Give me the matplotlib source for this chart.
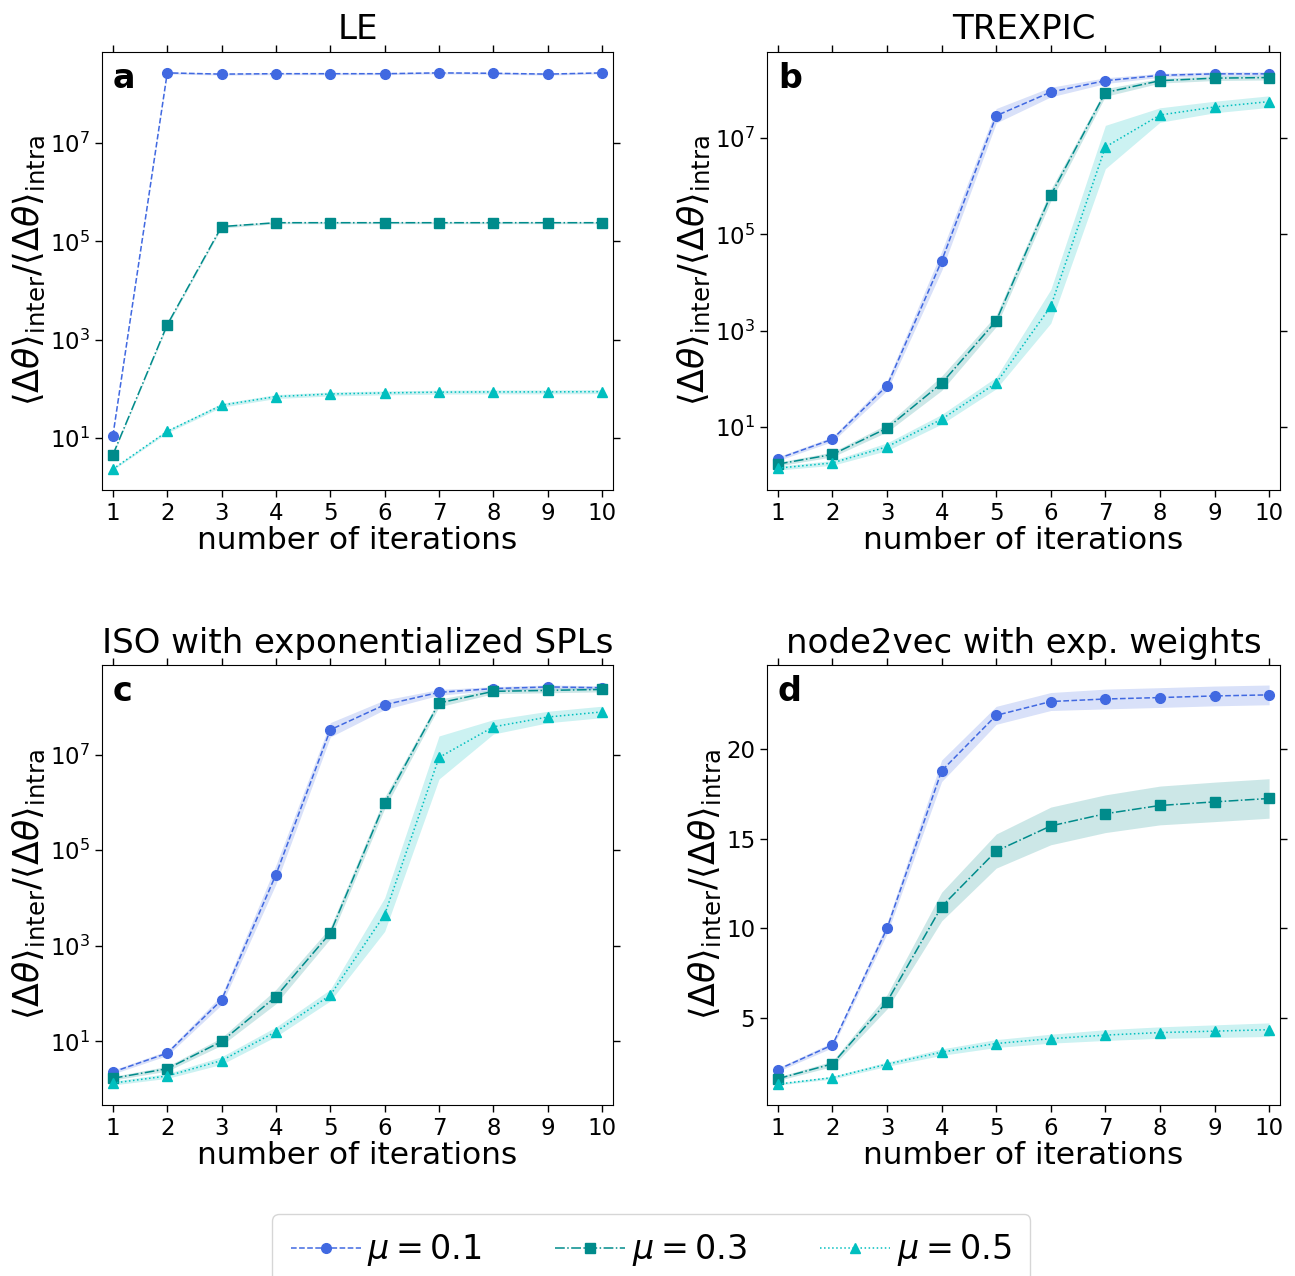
import numpy as np
import matplotlib
matplotlib.use("Agg")
import matplotlib.pyplot as plt
from matplotlib.ticker import NullLocator

iterations = [1, 2, 3, 4, 5, 6, 7, 8, 9, 10]
mu_labels = [r"$\mu = 0.1$", r"$\mu = 0.3$", r"$\mu = 0.5$"]
titles = ["LE", "TREXPIC", "ISO with exponentialized SPLs", "node2vec with exp. weights"]
panel_letters = ["a", "b", "c", "d"]

# ---- panel a: LE (log scale) ----
le_mu01 = [11, 2.7e8, 2.55e8, 2.6e8, 2.6e8, 2.6e8, 2.7e8, 2.65e8, 2.55e8, 2.7e8]
le_mu03 = [4.5, 2000, 2.0e5, 2.4e5, 2.4e5, 2.4e5, 2.4e5, 2.4e5, 2.4e5, 2.4e5]
le_mu05 = [2.3, 13.5, 46, 69, 78, 82, 85, 86, 86, 87]
le_w01 = [0.02] * 10
le_w03 = [0.02, 0.03, 0.03, 0.02, 0.02, 0.02, 0.02, 0.02, 0.02, 0.02]
le_w05 = [0.02, 0.03, 0.04, 0.04, 0.04, 0.04, 0.04, 0.04, 0.04, 0.04]

# ---- panel b: TREXPIC (log scale) ----
tr_mu01 = [2.2, 5.6, 72, 2.8e4, 2.9e7, 9.0e7, 1.55e8, 2.0e8, 2.15e8, 2.15e8]
tr_mu03 = [1.7, 2.7, 9.5, 81, 1600, 6.5e5, 8.8e7, 1.55e8, 1.75e8, 1.8e8]
tr_mu05 = [1.4, 1.8, 3.9, 14.5, 82, 3200, 6.5e6, 3.0e7, 4.4e7, 5.7e7]
tr_w01 = [0.04, 0.05, 0.1, 0.2, 0.15, 0.1, 0.06, 0.04, 0.04, 0.04]
tr_w03 = [0.04, 0.05, 0.08, 0.15, 0.12, 0.12, 0.08, 0.05, 0.05, 0.05]
tr_w05 = [0.04, 0.05, 0.08, 0.1, 0.12, 0.35, 0.45, 0.15, 0.12, 0.12]

# ---- panel c: ISO with exponentialized SPLs (log scale) ----
iso_mu01 = [2.3, 5.7, 74, 3.1e4, 3.3e7, 1.1e8, 2.0e8, 2.4e8, 2.6e8, 2.5e8]
iso_mu03 = [1.7, 2.7, 10, 87, 1860, 9.8e5, 1.2e8, 2.1e8, 2.2e8, 2.3e8]
iso_mu05 = [1.35, 1.9, 4.0, 16, 93, 4500, 8.7e6, 3.8e7, 6.1e7, 7.8e7]
iso_w01 = [0.04, 0.05, 0.1, 0.2, 0.15, 0.1, 0.06, 0.04, 0.04, 0.04]
iso_w03 = [0.04, 0.05, 0.08, 0.15, 0.12, 0.12, 0.08, 0.05, 0.05, 0.05]
iso_w05 = [0.04, 0.05, 0.08, 0.1, 0.12, 0.35, 0.45, 0.15, 0.12, 0.12]

# ---- panel d: node2vec with exp. weights (linear scale) ----
n2v_mu01 = [2.13, 3.5, 10.0, 18.77, 21.86, 22.63, 22.77, 22.85, 22.94, 23.0]
n2v_mu03 = [1.62, 2.45, 5.91, 11.21, 14.3, 15.7, 16.38, 16.84, 17.04, 17.23]
n2v_mu05 = [1.32, 1.68, 2.43, 3.1, 3.58, 3.85, 4.05, 4.19, 4.27, 4.35]
n2v_w01 = [0.1, 0.15, 0.3, 0.6, 0.5, 0.5, 0.55, 0.55, 0.55, 0.55]
n2v_w03 = [0.1, 0.15, 0.4, 0.8, 0.95, 1.05, 1.05, 1.08, 1.1, 1.1]
n2v_w05 = [0.05, 0.08, 0.12, 0.18, 0.22, 0.25, 0.3, 0.32, 0.35, 0.38]

colors = ["royalblue", "darkcyan", "c"]
markers = ["o", "s", "^"]
linestyles = ["--", "-.", ":"]

panels = [
    (le_mu01, le_mu03, le_mu05, le_w01, le_w03, le_w05, True),
    (tr_mu01, tr_mu03, tr_mu05, tr_w01, tr_w03, tr_w05, True),
    (iso_mu01, iso_mu03, iso_mu05, iso_w01, iso_w03, iso_w05, True),
    (n2v_mu01, n2v_mu03, n2v_mu05, n2v_w01, n2v_w03, n2v_w05, False),
]

W, H = 1295, 1276
fig = plt.figure(figsize=(W / 100, H / 100), dpi=100)

rects_px = [
    (102, 52, 613, 490),
    (767, 52, 1280, 490),
    (102, 665, 613, 1105),
    (767, 665, 1280, 1105),
]

ylabel = r"$\langle\Delta\theta\rangle_{\rm inter}/\langle\Delta\theta\rangle_{\rm intra}$"
handles = []
for k, (rect, pdata) in enumerate(zip(rects_px, panels)):
    l, t, r, b = rect
    ax = fig.add_axes([l / W, 1 - b / H, (r - l) / W, (b - t) / H])
    means = pdata[:3]
    widths = pdata[3:6]
    is_log = pdata[6]
    x = np.array(iterations)
    for i in range(3):
        m = np.array(means[i], dtype=float)
        w = np.array(widths[i], dtype=float)
        if is_log:
            lo, hi = m / 10 ** w, m * 10 ** w
        else:
            lo, hi = m - w, m + w
        ax.fill_between(x, lo, hi, color=colors[i], alpha=0.2, linewidth=0)
        h, = ax.plot(x, m, color=colors[i], marker=markers[i], linestyle=linestyles[i],
                     markersize=7, linewidth=1.1, label=mu_labels[i])
        if k == 0:
            handles.append(h)
    if is_log:
        ax.set_yscale("log")
        ax.set_yticks([1e1, 1e3, 1e5, 1e7])
        ax.yaxis.set_minor_locator(NullLocator())
    else:
        ax.set_yticks([5, 10, 15, 20])
    ax.set_xticks(iterations)
    ax.set_xlim(0.8, 10.2)
    ax.tick_params(axis="both", which="major", direction="out", length=5, width=1,
                   labelsize=16.5, top=True, right=True, labeltop=False, labelright=False)
    ax.set_title(titles[k], fontsize=24.5, pad=9)
    ax.set_xlabel("number of iterations", fontsize=22.5, labelpad=1)
    ax.set_ylabel(ylabel, fontsize=25, labelpad=2)
    ax.text(0.021, 0.978, panel_letters[k], transform=ax.transAxes, fontsize=24,
            fontweight="bold", va="top", ha="left")

fig.legend(handles=handles, labels=mu_labels, loc="upper center",
           bbox_to_anchor=(0.503, 1 - 1214 / H), ncol=3, fontsize=24,
           handlelength=2.1, handletextpad=0.2, columnspacing=2.2,
           borderpad=0.55, borderaxespad=0, frameon=True, fancybox=True)

fig.savefig("out.png", dpi=100)
